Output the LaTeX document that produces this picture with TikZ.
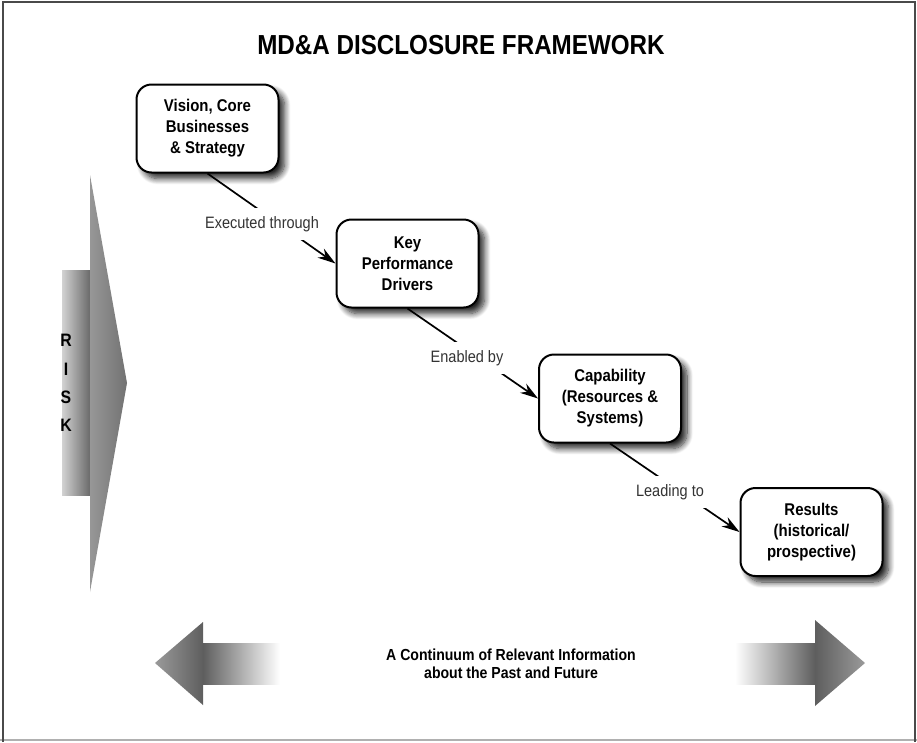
\documentclass[tikz,border=0pt]{standalone}
\usepackage{fontspec}
\setmainfont{Liberation Sans}[FakeStretch=0.88]
\usetikzlibrary{arrows.meta,shadows.blur}
\definecolor{lblgray}{HTML}{333333}
\definecolor{framedark}{HTML}{4A4A4A}
\definecolor{framelight}{HTML}{B0B0B0}
\definecolor{risklight}{HTML}{D2D2D2}
\definecolor{riskdark}{HTML}{6A6A6A}
\definecolor{tri1}{HTML}{979797}
\definecolor{tri2}{HTML}{727272}
\definecolor{arrdark}{HTML}{5E5E5E}
\definecolor{arrtip}{HTML}{9A9A9A}
\pgfdeclarelayer{bg}
\pgfsetlayers{bg,main}
\begin{document}
\begin{tikzpicture}[x=1pt,y=-1pt,
  stage/.style={draw=black,line width=2pt,rounded corners=15pt,fill=white,
    minimum width=142pt,minimum height=88pt,inner sep=0pt,align=center,
    font=\fontsize{17}{21}\selectfont\bfseries,
    blur shadow={shadow xshift=6pt,shadow yshift=-6pt,shadow blur radius=6pt,shadow blur steps=10,shadow opacity=85}},
  conn/.style={line width=1.7pt,-{Stealth[length=18pt,width=11pt]}},
  lbl/.style={fill=white,inner xsep=2pt,inner ysep=8pt,font=\fontsize{16.5}{18}\selectfont,text=lblgray},
  risklet/.style={font=\fontsize{18}{18}\selectfont\bfseries,inner sep=0pt}]
\useasboundingbox (0,0) rectangle (917,742);
% frame
\draw[framelight,line width=1.5pt] (0,740) -- (917,740);
\draw[framedark,line width=2pt] (3,742) -- (3,2) -- (915,2) -- (915,742);
% title
\node[font=\fontsize{27.5}{30}\selectfont\bfseries] (title) at (461,45) {MD\&A DISCLOSURE FRAMEWORK};
% risk arrow
\shade[left color=risklight,right color=riskdark] (62,270) rectangle (90,495);
\shade[left color=tri1,right color=tri2] (90,175) -- (127,383) -- (90,592) -- cycle;
\node[risklet] (r1) at (66,340) {R};
\node[risklet] (r2) at (66,369) {I};
\node[risklet] (r3) at (66,397) {S};
\node[risklet] (r4) at (66,425) {K};
% stages
\node[stage] (vis) at (207.5,128.5) {Vision, Core\\Businesses\\\& Strategy};
\node[stage] (kpd) at (407.5,263.5) {Key\\Performance\\Drivers};
\node[stage] (cap) at (610,398.5) {Capability\\(Resources \&\\Systems)};
\node[stage] (res) at (811.5,532) {Results\\(historical/\\prospective)};
\begin{pgfonlayer}{bg}
\draw[conn] (vis.south) -- (kpd.west);
\draw[conn] (kpd.south) -- (cap.west);
\draw[conn] (cap.south) -- (res.west);
\end{pgfonlayer}
\node[lbl] (l1) at (262,224) {Executed through};
\node[lbl] (l2) at (467,358) {Enabled by};
\node[lbl] (l3) at (670,492) {Leading to};
% continuum arrows
\shade[left color=arrtip,right color=arrdark] (155,663) -- (203,622) -- (203,705) -- cycle;
\shade[left color=arrdark,right color=white] (203,643) rectangle (280,684);
\shade[left color=white,right color=arrdark] (735,643) rectangle (815,684);
\shade[left color=arrdark,right color=arrtip] (815,620) -- (865,663) -- (815,706) -- cycle;
\node[align=center,font=\fontsize{16}{18}\selectfont\bfseries] (cont) at (511,664) {A Continuum of Relevant Information\\about the Past and Future};
\end{tikzpicture}
\end{document}
